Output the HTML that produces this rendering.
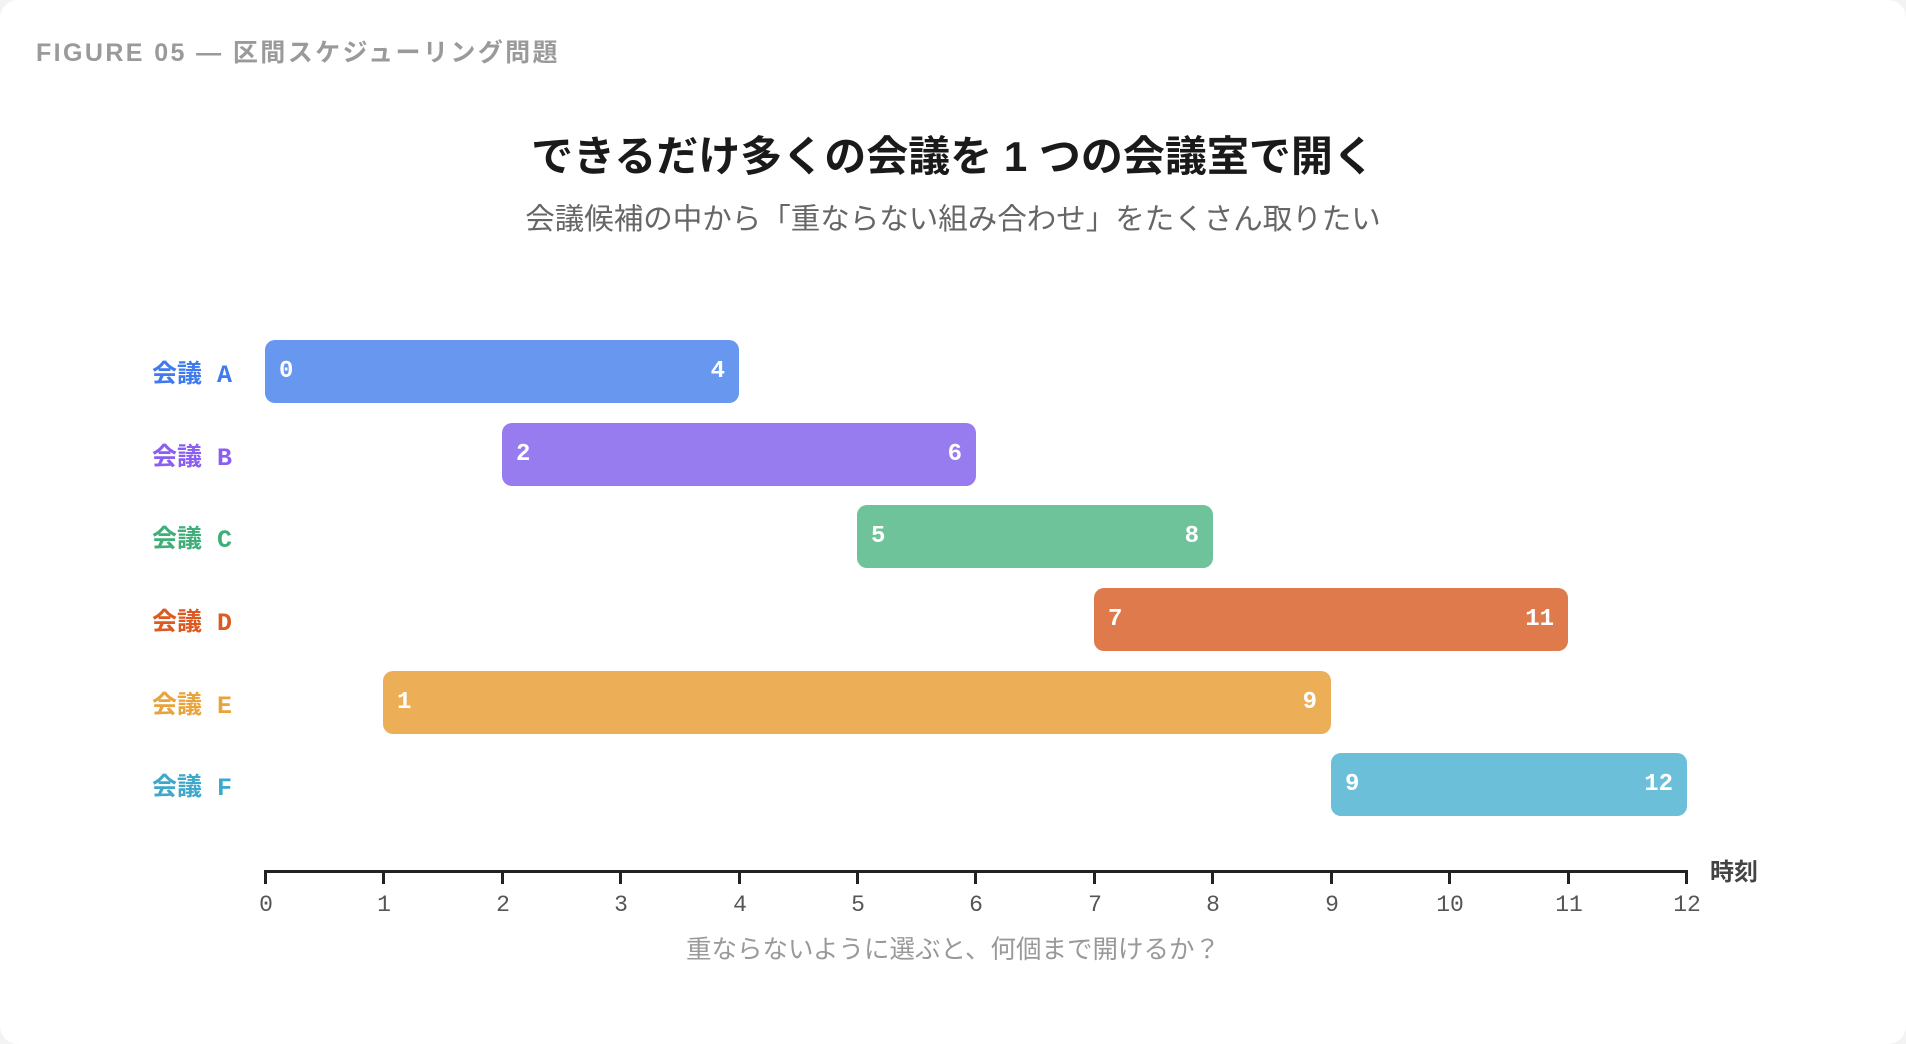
<!DOCTYPE html>
<html><head><meta charset="utf-8"><style>
html,body{margin:0;padding:0;background:#f3f3f3;}
#c{position:relative;width:1906px;height:1044px;background:#fff;border-radius:18px;overflow:hidden;font-family:"Liberation Sans","Noto Sans CJK JP",sans-serif;}
.t{position:absolute;white-space:nowrap;}
.bar{position:absolute;height:63px;border-radius:10px;}
.bar span{position:absolute;top:0;line-height:63px;color:#fff;font-weight:bold;font-size:24px;font-family:"Liberation Mono","Noto Sans CJK JP",monospace;}
.lab{position:absolute;right:1674px;font-size:25px;font-weight:bold;line-height:30px;white-space:nowrap;font-family:"Liberation Mono","Noto Sans CJK JP",monospace;}
.tick{position:absolute;top:872px;width:3px;height:12px;background:#222;}
.tl{position:absolute;top:892px;width:60px;margin-left:-29px;text-align:center;font-size:23px;color:#555;font-family:"Liberation Mono",monospace;}
</style></head><body><div id="c">
<div class="t" style="left:36px;top:33px;font-size:25px;font-weight:bold;color:#9a9a9a;letter-spacing:2.4px;">FIGURE 05 — 区間スケジューリング問題</div>
<div class="t" style="left:0;width:1906px;text-align:center;top:123px;font-size:42px;font-weight:bold;color:#1a1a1a;">できるだけ多くの会議を 1 つの会議室で開く</div>
<div class="t" style="left:0;width:1906px;text-align:center;top:196px;font-size:29.5px;color:#666;">会議候補の中から「重ならない組み合わせ」をたくさん取りたい</div>

<div class="lab" style="top:361px;color:#3f7bef;">会議 A</div>
<div class="lab" style="top:444px;color:#8a5ef0;">会議 B</div>
<div class="lab" style="top:526px;color:#3fae78;">会議 C</div>
<div class="lab" style="top:609px;color:#dc5a22;">会議 D</div>
<div class="lab" style="top:692px;color:#e9a33c;">会議 E</div>
<div class="lab" style="top:774px;color:#3ea8cb;">会議 F</div>

<div class="bar" style="left:265px;width:474px;top:340px;background:#6897f0;"><span style="left:14px">0</span><span style="right:14px">4</span></div>
<div class="bar" style="left:502px;width:474px;top:423px;background:#977cef;"><span style="left:14px">2</span><span style="right:14px">6</span></div>
<div class="bar" style="left:857px;width:356px;top:505px;background:#6fc39a;"><span style="left:14px">5</span><span style="right:14px">8</span></div>
<div class="bar" style="left:1094px;width:474px;top:588px;background:#df7a4c;"><span style="left:14px">7</span><span style="right:14px">11</span></div>
<div class="bar" style="left:383px;width:948px;top:671px;background:#ecaf58;"><span style="left:14px">1</span><span style="right:14px">9</span></div>
<div class="bar" style="left:1331px;width:356px;top:753px;background:#6bbfd9;"><span style="left:14px">9</span><span style="right:14px">12</span></div>

<div style="position:absolute;left:264px;top:870px;width:1424px;height:3px;background:#222;"></div>
<div class="tick" style="left:264px"></div><div class="tick" style="left:382px"></div><div class="tick" style="left:501px"></div><div class="tick" style="left:619px"></div><div class="tick" style="left:738px"></div><div class="tick" style="left:856px"></div><div class="tick" style="left:974px"></div><div class="tick" style="left:1093px"></div><div class="tick" style="left:1211px"></div><div class="tick" style="left:1330px"></div><div class="tick" style="left:1448px"></div><div class="tick" style="left:1567px"></div><div class="tick" style="left:1685px"></div>
<div class="tl" style="left:265px">0</div><div class="tl" style="left:383px">1</div><div class="tl" style="left:502px">2</div><div class="tl" style="left:620px">3</div><div class="tl" style="left:739px">4</div><div class="tl" style="left:857px">5</div><div class="tl" style="left:975px">6</div><div class="tl" style="left:1094px">7</div><div class="tl" style="left:1212px">8</div><div class="tl" style="left:1331px">9</div><div class="tl" style="left:1449px">10</div><div class="tl" style="left:1568px">11</div><div class="tl" style="left:1686px">12</div>
<div class="t" style="left:1710px;top:852px;font-size:24px;font-weight:bold;color:#444;">時刻</div>
<div class="t" style="left:0;width:1906px;text-align:center;top:929px;font-size:25.5px;color:#999;">重ならないように選ぶと、何個まで開けるか？</div>
</div></body></html>
